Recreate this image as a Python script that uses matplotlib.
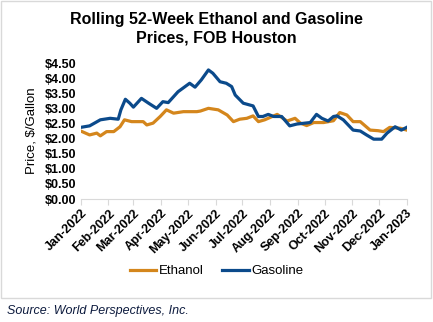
import numpy as np
import pandas as pd
import matplotlib
matplotlib.use("Agg")
from matplotlib import pyplot as plt
from matplotlib.patches import Rectangle

plt.rcParams['font.family'] = ['Liberation Sans', 'DejaVu Sans']

# days after 2022-01-01, values in $/gallon
gas_day = [0, 10, 22, 33, 42, 45, 50, 55, 59, 68, 76, 85, 92, 98, 109, 122, 128, 135,
           143, 148, 156, 163, 169, 173, 182, 193, 199, 204, 210, 216, 225, 234, 242,
           257, 264, 270, 277, 283, 287, 294, 305, 313, 320, 328, 337, 343, 352, 359, 365]
gas_val = [2.37, 2.42, 2.62, 2.67, 2.64, 2.95, 3.30, 3.17, 3.04, 3.33, 3.17, 3.00, 3.22,
           3.19, 3.55, 3.83, 3.70, 3.94, 4.27, 4.16, 3.88, 3.83, 3.72, 3.44, 3.17, 3.08,
           2.73, 2.73, 2.80, 2.73, 2.73, 2.42, 2.48, 2.53, 2.80, 2.67, 2.58, 2.73, 2.75,
           2.62, 2.28, 2.25, 2.12, 1.98, 1.98, 2.18, 2.39, 2.28, 2.37]

eth_day = [0, 10, 18, 22, 29, 37, 44, 49, 57, 70, 74, 81, 89, 96, 104, 115, 130, 134,
           143, 154, 164, 171, 178, 186, 193, 199, 206, 220, 231, 240, 246, 253, 261,
           272, 283, 290, 298, 305, 313, 324, 333, 339, 346, 358, 365]
eth_val = [2.25, 2.12, 2.18, 2.09, 2.23, 2.23, 2.39, 2.62, 2.56, 2.56, 2.45, 2.51, 2.73,
           2.95, 2.84, 2.89, 2.89, 2.91, 3.00, 2.95, 2.78, 2.56, 2.64, 2.67, 2.75, 2.56,
           2.62, 2.80, 2.58, 2.67, 2.51, 2.43, 2.53, 2.53, 2.59, 2.86, 2.78, 2.56, 2.56,
           2.28, 2.26, 2.23, 2.37, 2.34, 2.28]

month_labels = ['Jan-2022', 'Feb-2022', 'Mar-2022', 'Apr-2022', 'May-2022', 'Jun-2022',
                'Jul-2022', 'Aug-2022', 'Sep-2022', 'Oct-2022', 'Nov-2022', 'Dec-2022',
                'Jan-2023']
yticks = [0, 0.5, 1, 1.5, 2, 2.5, 3, 3.5, 4, 4.5]

start = pd.Timestamp('2022-01-01')
eth_dates = [start + pd.Timedelta(days=d) for d in eth_day]
gas_dates = [start + pd.Timedelta(days=d) for d in gas_day]
month_dates = pd.date_range('2022-01-01', '2023-01-01', freq='MS')

fig = plt.figure(figsize=(4.33, 3.22), dpi=100)
fig.patches.append(Rectangle((1 / 433, 24 / 322), 430 / 433, 297 / 322, transform=fig.transFigure,
                             fill=False, edgecolor='#d9d9d9', linewidth=1))

ax = fig.add_axes([80.7 / 433, 123 / 322, 326 / 433, 136 / 322])
ax.plot(eth_dates, eth_val, color='#d4861c', lw=2.3, label='Ethanol')
ax.plot(gas_dates, gas_val, color='#0b4a8b', lw=2.3, label='Gasoline')

ax.set_xlim(month_dates[0], month_dates[-1])
ax.set_ylim(0, 4.5)
ax.set_xticks(month_dates)
ax.set_xticklabels(month_labels, rotation=45, ha='right', rotation_mode='anchor',
                   fontsize=9, fontweight='bold')
ax.set_yticks(yticks)
ax.set_yticklabels(['$%.2f' % v for v in yticks], fontsize=9, fontweight='bold')
ax.tick_params(axis='y', length=0, pad=3)
ax.tick_params(axis='x', length=4, color='#d9d9d9', pad=2)
for s in ['top', 'right', 'left']:
    ax.spines[s].set_visible(False)
ax.spines['bottom'].set_color('#d9d9d9')
ax.set_ylabel('Price, $/Gallon', fontsize=9.5, labelpad=5)

fig.text(0.5, 1 - 29 / 322, 'Rolling 52-Week Ethanol and Gasoline\nPrices, FOB Houston',
         ha='center', va='center', fontsize=11.5, fontweight='bold', linespacing=1.3)

fig.legend(loc='center', bbox_to_anchor=(0.5, 51 / 322), ncol=2, frameon=False,
           fontsize=9.5, handlelength=2.0, columnspacing=1.4, handletextpad=0.2)

fig.text(7 / 433, 11 / 322, 'Source: World Perspectives, Inc.', fontsize=9, style='italic',
         color='#0d1b3e', va='center')

fig.savefig('out.png', dpi=100)
